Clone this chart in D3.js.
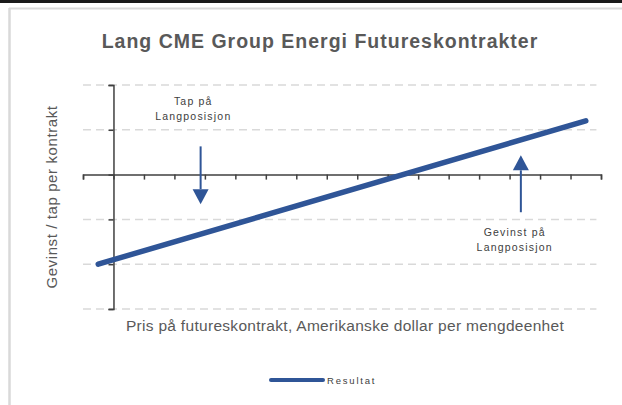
<!DOCTYPE html>
<html>
<head>
<meta charset="utf-8">
<script src="https://cdn.jsdelivr.net/npm/d3@7"></script>
<style>
  body { margin: 0; background: #fff; }
  svg { display: block; font-family: "Liberation Sans", Arial, sans-serif; }
</style>
</head>
<body>
<svg id="chart" width="622" height="405"></svg>
<script>
// Chart values (price units on x, profit/loss units on y).
const x_ticks = d3.range(-1, 17);
const y_ticks = [-3, -2, -1, 0, 1, 2];
const result_x = [-0.5, 15.5];
const result_y = [-2, 1.2];
// Annotation arrows: x, from y, to y (tip).
const arrow_x = [2.86, 13.37];
const arrow_from = [0.63, -0.84];
const arrow_to = [-0.66, 0.43];
const note_lines = [["Tap på", "Langposisjon"], ["Gevinst på", "Langposisjon"]];
const note_x = [2.62, 13.17];
const note_y = [1.55, -1.37];

const blue = "#2F5597";
const axis_color = "#404040";

let svg = d3.select("#chart");

// Frame: dark top bar and light grey border.
svg.append("rect").attr("x", 0).attr("y", 0).attr("width", 622).attr("height", 3).attr("fill", "#1a1a1a");
svg.append("line").attr("x1", 9).attr("x2", 622).attr("y1", 8.5).attr("y2", 8.5)
  .attr("stroke", "#d9d9d9").attr("stroke-width", 2);
svg.append("line").attr("x1", 9.5).attr("x2", 9.5).attr("y1", 8).attr("y2", 405)
  .attr("stroke", "#d9d9d9").attr("stroke-width", 2.5);

// Scales.
let x = d3.scaleLinear().domain([-1, 16]).range([83, 601]);
let y = d3.scaleLinear().domain([-3, 2]).range([309, 85]);

// Title.
svg.append("text")
  .attr("x", 320).attr("y", 48)
  .attr("text-anchor", "middle")
  .attr("font-size", 19.5).attr("font-weight", "bold")
  .attr("letter-spacing", 1.0)
  .attr("fill", "#595959")
  .text("Lang CME Group Energi Futureskontrakter");

// Dashed grid lines.
svg.append("g").selectAll("line")
  .data(y_ticks.filter(d => d !== 0))
  .enter().append("line")
  .attr("x1", x(-1)).attr("x2", x(15.85))
  .attr("y1", d => y(d)).attr("y2", d => y(d))
  .attr("stroke", "#d9d9d9").attr("stroke-width", 1.5)
  .attr("stroke-dasharray", "8,5");

// Y axis with ticks to the left.
let y_axis = svg.append("g")
  .attr("transform", "translate(" + x(0) + ",0)")
  .call(d3.axisLeft(y).tickValues(y_ticks).tickSize(5).tickSizeOuter(5).tickFormat(""));
y_axis.selectAll("path, line").attr("stroke", axis_color).attr("stroke-width", 1.5);

// X axis through zero with ticks pointing down.
let x_axis = svg.append("g")
  .attr("transform", "translate(0," + y(0) + ")")
  .call(d3.axisBottom(x).tickValues(x_ticks).tickSize(5).tickSizeOuter(5).tickFormat(""));
x_axis.selectAll("path, line").attr("stroke", axis_color).attr("stroke-width", 1.5);

// Axis labels.
svg.append("text")
  .attr("transform", "translate(57," + y(-0.5) + ") rotate(-90)")
  .attr("text-anchor", "middle")
  .attr("font-size", 15).attr("fill", "#595959")
  .attr("letter-spacing", 0.6)
  .text("Gevinst / tap per kontrakt");

svg.append("text")
  .attr("x", 345).attr("y", 331)
  .attr("text-anchor", "middle")
  .attr("font-size", 15.5).attr("fill", "#595959")
  .attr("letter-spacing", 0.3)
  .text("Pris på futureskontrakt, Amerikanske dollar per mengdeenhet");

// Result line.
let result = result_x.map((d, i) => ({ x: d, y: result_y[i] }));
svg.append("path")
  .datum(result)
  .attr("fill", "none")
  .attr("stroke", blue)
  .attr("stroke-width", 5.5)
  .attr("stroke-linecap", "round")
  .attr("d", d3.line().x(d => x(d.x)).y(d => y(d.y)));

// Arrows with triangle heads.
for (let i = 0; i < arrow_x.length; i++) {
  let ax = x(arrow_x[i]);
  let y0 = y(arrow_from[i]);
  let y1 = y(arrow_to[i]);
  let dir = y1 > y0 ? 1 : -1;
  let head = 15;
  svg.append("line")
    .attr("x1", ax).attr("x2", ax)
    .attr("y1", y0).attr("y2", y1 - dir * head)
    .attr("stroke", blue).attr("stroke-width", 2);
  svg.append("path")
    .attr("d", "M" + (ax - 8) + "," + (y1 - dir * head) + "L" + (ax + 8) + "," + (y1 - dir * head) + "L" + ax + "," + y1 + "Z")
    .attr("fill", blue);
}

// Annotation text.
for (let i = 0; i < note_lines.length; i++) {
  let t = svg.append("text")
    .attr("text-anchor", "middle")
    .attr("font-size", 10.5).attr("fill", "#404040")
    .attr("letter-spacing", 1.2);
  note_lines[i].forEach(function (line, j) {
    t.append("tspan")
      .attr("x", x(note_x[i]))
      .attr("y", y(note_y[i]) + j * 15)
      .text(line);
  });
}

// Legend.
svg.append("line")
  .attr("x1", 271).attr("x2", 323).attr("y1", 380).attr("y2", 380)
  .attr("stroke", blue).attr("stroke-width", 4).attr("stroke-linecap", "round");
svg.append("text")
  .attr("x", 327).attr("y", 383.5)
  .attr("font-size", 9.5).attr("fill", "#404040")
  .attr("letter-spacing", 1.8)
  .text("Resultat");
</script>
</body>
</html>
